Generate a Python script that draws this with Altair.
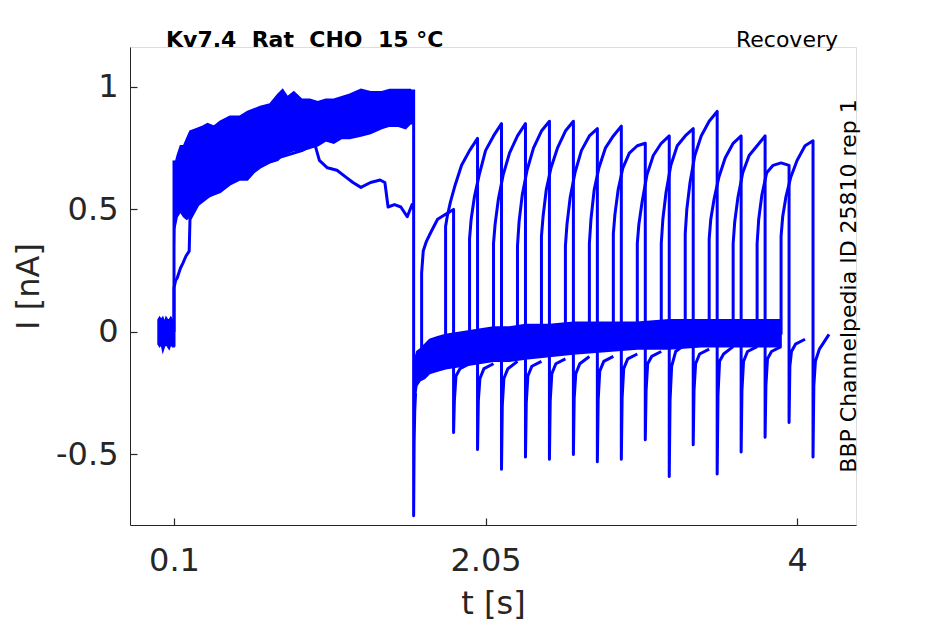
import altair as alt
import pandas as pd

BLUE = "#0000FF"
AX = "#262626"
FONT = "DejaVu Sans"

# ---------------- data ----------------
# holding level before the first pulse (noise band)
base_t  = [0.0, 0.01, 0.02, 0.03, 0.04, 0.05, 0.06, 0.07, 0.08, 0.09, 0.1]
base_lo = [-0.05, -0.06, -0.05, -0.08, -0.06, -0.05, -0.06, -0.07, -0.05, -0.06, -0.06]
base_hi = [0.05, 0.06, 0.05, 0.06, 0.04, 0.06, 0.05, 0.05, 0.06, 0.05, 0.05]

# first pulse: envelope of the overlapping sweeps
p1_t  = [0.1, 0.104, 0.12, 0.14, 0.16, 0.18, 0.2, 0.24, 0.28, 0.31, 0.35, 0.39, 0.45,
         0.51, 0.56, 0.6, 0.64, 0.7, 0.75, 0.78, 0.81, 0.85, 0.9, 0.95, 1.0, 1.05,
         1.1, 1.15, 1.2, 1.27, 1.33, 1.4, 1.45, 1.5, 1.55, 1.58, 1.6]
p1_hi = [0.55, 0.68, 0.72, 0.76, 0.76, 0.79, 0.82, 0.83, 0.84, 0.85, 0.84, 0.86, 0.88,
         0.88, 0.90, 0.91, 0.92, 0.93, 0.97, 0.99, 0.96, 0.98, 0.95, 0.95, 0.94, 0.95,
         0.95, 0.96, 0.97, 0.99, 0.98, 0.98, 0.99, 0.99, 0.99, 0.99, 0.98]
p1_lo = [0.30, 0.42, 0.47, 0.49, 0.47, 0.46, 0.47, 0.51, 0.54, 0.55, 0.56, 0.57, 0.60,
         0.62, 0.62, 0.65, 0.67, 0.69, 0.70, 0.72, 0.73, 0.74, 0.74, 0.75, 0.76, 0.78,
         0.77, 0.79, 0.79, 0.80, 0.81, 0.83, 0.84, 0.84, 0.83, 0.85, 0.85]

# tail after the first pulse: envelope of the overlapping sweeps
tail_t  = [1.612, 1.62, 1.64, 1.67, 1.7, 1.75, 1.8, 1.9, 2.0, 2.1, 2.2, 2.3, 2.45,
           2.6, 2.8, 3.0, 3.2, 3.4, 3.6, 3.8, 3.9]
tail_lo = [-0.26, -0.22, -0.20, -0.19, -0.17, -0.16, -0.15, -0.14, -0.13, -0.12, -0.12,
           -0.11, -0.10, -0.09, -0.08, -0.07, -0.07, -0.06, -0.06, -0.06, -0.06]
tail_hi = [-0.10, -0.08, -0.07, -0.05, -0.03, -0.02, -0.01, 0.0, 0.01, 0.02, 0.02,
           0.03, 0.03, 0.04, 0.04, 0.04, 0.05, 0.05, 0.05, 0.05, 0.05]

# single sweep that separates from the band during the first pulse
sw0_t = [0.1, 0.1, 0.11, 0.12, 0.14, 0.155, 0.175, 0.195, 0.2, 0.25, 0.35, 0.5, 0.7,
         0.9, 0.98, 1.01, 1.06, 1.12, 1.18, 1.22, 1.27, 1.33, 1.39, 1.42, 1.44, 1.48,
         1.52, 1.56, 1.59, 1.6]
sw0_I = [0.0, 0.18, 0.21, 0.22, 0.26, 0.28, 0.31, 0.33, 0.46, 0.52, 0.57, 0.64, 0.70,
         0.74, 0.77, 0.70, 0.67, 0.66, 0.63, 0.61, 0.59, 0.61, 0.62, 0.61, 0.51, 0.52,
         0.51, 0.47, 0.52, 0.50]

# onset step and end-of-pulse drop
step_t = [0.1, 0.1]
step_I = [-0.06, 0.70]
drop_t = [1.6, 1.6, 1.603, 1.607, 1.612]
drop_I = [0.99, -0.75, -0.45, -0.32, -0.25]

# second (test) pulses, one per sweep
p2_start  = [1.65, 1.80, 1.95, 2.10, 2.25, 2.40, 2.55, 2.70,
             2.85, 3.00, 3.15, 3.30, 3.45, 3.60, 3.75, 3.90]
p2_end    = [1.85, 2.00, 2.15, 2.30, 2.45, 2.60, 2.75, 2.90,
             3.05, 3.20, 3.35, 3.50, 3.65, 3.80, 3.95, 4.10]
sweep_end = [1.95, 2.10, 2.25, 2.40, 2.55, 2.70, 2.85, 3.00,
             3.15, 3.30, 3.45, 3.60, 3.75, 3.90, 4.05, 4.20]
pre_level = [-0.10, -0.10, -0.08, -0.07, -0.06, -0.05, -0.05, -0.04,
             -0.04, -0.03, -0.03, -0.02, -0.02, -0.02, -0.01, -0.01]
rise_offsets = [0.0, 0.01, 0.03, 0.06, 0.1, 0.15, 0.2]
rise_vals = [
    [0.24, 0.33, 0.37, 0.41, 0.46, 0.48, 0.50],
    [0.43, 0.47, 0.53, 0.60, 0.68, 0.74, 0.79],
    [0.38, 0.46, 0.55, 0.64, 0.74, 0.80, 0.85],
    [0.36, 0.44, 0.54, 0.64, 0.73, 0.80, 0.85],
    [0.35, 0.45, 0.56, 0.66, 0.75, 0.82, 0.86],
    [0.39, 0.47, 0.58, 0.67, 0.75, 0.82, 0.86],
    [0.35, 0.44, 0.55, 0.65, 0.74, 0.80, 0.83],
    [0.36, 0.46, 0.58, 0.67, 0.75, 0.80, 0.84],
    [0.40, 0.48, 0.58, 0.67, 0.73, 0.76, 0.77],
    [0.36, 0.44, 0.53, 0.64, 0.72, 0.77, 0.80],
    [0.36, 0.46, 0.57, 0.68, 0.76, 0.80, 0.83],
    [0.40, 0.50, 0.61, 0.72, 0.80, 0.86, 0.90],
    [0.38, 0.46, 0.54, 0.63, 0.71, 0.77, 0.80],
    [0.36, 0.45, 0.55, 0.65, 0.72, 0.76, 0.80],
    [0.36, 0.46, 0.56, 0.65, 0.68, 0.69, 0.68],
    [0.39, 0.47, 0.55, 0.63, 0.70, 0.76, 0.78],
]
spike_min = [-0.41, -0.48, -0.56, -0.51, -0.52, -0.50, -0.53, -0.52,
             -0.44, -0.59, -0.46, -0.58, -0.49, -0.43, -0.37, -0.51]
relax_offsets = [0.005, 0.015, 0.04]
relax_vals = [
    [-0.28, -0.18, -0.15, -0.13],
    [-0.28, -0.19, -0.15, -0.13],
    [-0.30, -0.19, -0.15, -0.12],
    [-0.29, -0.18, -0.14, -0.12],
    [-0.28, -0.17, -0.13, -0.11],
    [-0.27, -0.17, -0.13, -0.10],
    [-0.28, -0.16, -0.12, -0.10],
    [-0.27, -0.15, -0.11, -0.09],
    [-0.24, -0.13, -0.10, -0.08],
    [-0.28, -0.14, -0.08, -0.05],
    [-0.24, -0.13, -0.09, -0.07],
    [-0.26, -0.12, -0.09, -0.06],
    [-0.24, -0.12, -0.08, -0.06],
    [-0.22, -0.11, -0.08, -0.06],
    [-0.14, -0.08, -0.05, -0.03],
    [-0.22, -0.12, -0.07, -0.01],
]

x_ticks = [0.1, 2.05, 4]
y_ticks = [-0.5, 0, 0.5, 1]
x_domain = [-0.1755, 4.369]
y_domain = [-0.788, 1.163]
title_text = "Kv7.4\u00a0 Rat\u00a0 CHO\u00a0 15 °C"
annot_text = ["Recovery", "BBP Channelpedia ID 25810 rep 1"]

# ---------------- tables ----------------
df_base = pd.DataFrame({"t": base_t, "lo": base_lo, "hi": base_hi})
df_p1 = pd.DataFrame({"t": p1_t, "lo": p1_lo, "hi": p1_hi})
df_tail = pd.DataFrame({"t": tail_t, "lo": tail_lo, "hi": tail_hi})

rows = []
def add(trace, ts, Is):
    for i, (t, v) in enumerate(zip(ts, Is)):
        rows.append({"trace": trace, "seq": i, "t": t, "I": v})

add("step", step_t, step_I)
add("sw0", sw0_t, sw0_I)
add("drop", drop_t, drop_I)
for k in range(len(p2_start)):
    s, e = p2_start[k], p2_end[k]
    ts = [s] + [s + o for o in rise_offsets[:-1]] + [e, e] + \
         [e + o for o in relax_offsets] + [sweep_end[k]]
    Is = [pre_level[k]] + rise_vals[k] + [spike_min[k]] + relax_vals[k]
    add(f"s{k}", ts, Is)
df_lines = pd.DataFrame(rows)

xs = alt.Scale(domain=x_domain, nice=False, zero=False)
ys = alt.Scale(domain=y_domain, nice=False, zero=False)

lab = dict(labelFont=FONT, labelFontSize=32, labelColor=AX,
           titleFont=FONT, titleFontSize=32, titleColor=AX, titleFontWeight="normal",
           domainColor=AX, domainWidth=1, grid=False, ticks=False, tickSize=0)

x_main = alt.Axis(orient="bottom", values=x_ticks, labelExpr="datum.value + ''",
                  title="t [s]", labelPadding=20, titlePadding=12, **lab)
y_main = alt.Axis(orient="left", values=y_ticks, labelExpr="datum.value + ''",
                  title="I [nA]", labelPadding=12, titlePadding=10, **lab)

tick_common = dict(domain=False, labels=False, ticks=True, tickSize=7, offset=-7,
                   tickColor=AX, tickWidth=1.2, grid=False, title=None)
x_tick = alt.Axis(orient="bottom", values=x_ticks, **tick_common)
y_tick = alt.Axis(orient="left", values=y_ticks, **tick_common)


def band(df):
    return alt.Chart(df).mark_area(fill=BLUE, fillOpacity=1, opacity=1,
                                   stroke=BLUE, strokeWidth=1.5, strokeOpacity=1,
                                   interpolate="linear").encode(
        x=alt.X("t:Q", scale=xs, axis=None),
        y=alt.Y("lo:Q", scale=ys, axis=None),
        y2=alt.Y2("hi:Q"),
    )


line_layer = alt.Chart(df_lines).mark_line(color=BLUE, strokeWidth=3,
                                            strokeJoin="round").encode(
    x=alt.X("t:Q", scale=xs, axis=x_main),
    y=alt.Y("I:Q", scale=ys, axis=y_main),
    detail="trace:N",
    order="seq:Q",
)

tick_layer = alt.Chart(df_base).mark_point(opacity=0).encode(
    x=alt.X("t:Q", scale=xs, axis=x_tick),
    y=alt.Y("lo:Q", scale=ys, axis=y_tick),
)

df_ttl = pd.DataFrame({"label": [title_text]})
ttl_layer = alt.Chart(df_ttl).mark_text(
    align="left", baseline="alphabetic", font=FONT, fontSize=22, fontWeight="bold",
    color="black"
).encode(x=alt.value(36), y=alt.value(0), text="label:N")

df_rec = pd.DataFrame({"label": [annot_text[0]]})
rec_layer = alt.Chart(df_rec).mark_text(
    align="right", baseline="alphabetic", font=FONT, fontSize=22, color="black"
).encode(x=alt.value(708), y=alt.value(0), text="label:N")

df_id = pd.DataFrame({"label": [annot_text[1]]})
id_layer = alt.Chart(df_id).mark_text(
    align="center", baseline="middle", angle=270, font=FONT, fontSize=22, color="black"
).encode(x=alt.value(719), y=alt.value(239), text="label:N")

chart = alt.layer(band(df_base), band(df_p1), band(df_tail), line_layer, tick_layer,
                  ttl_layer, rec_layer, id_layer
).resolve_axis(
    x="independent", y="independent"
).properties(
    width=726, height=478,
    padding={"left": 122, "top": 39, "right": 50, "bottom": 100},
    autosize=alt.AutoSizeParams(type="none"),
).configure_view(stroke=None).configure(background="white")

chart.save("out.html", embed_options={"renderer": "svg", "actions": False})
